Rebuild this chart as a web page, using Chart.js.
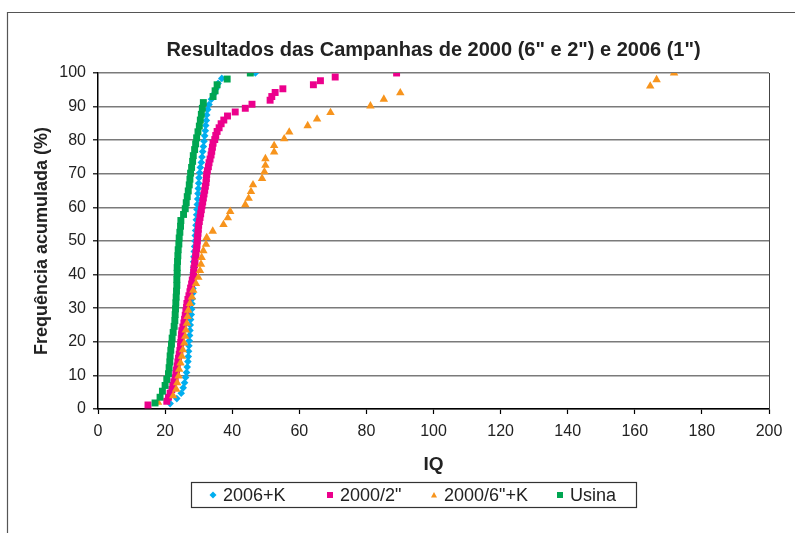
<!DOCTYPE html>
<html>
<head>
<meta charset="utf-8">
<script src="https://cdn.jsdelivr.net/npm/chart.js"></script>
<style>
  html, body { margin: 0; padding: 0; background: #fff; }
  #wrap { position: relative; width: 795px; height: 533px; }
  canvas { display: block; }
</style>
</head>
<body>
<div id="wrap"><canvas id="c" width="795" height="533"></canvas></div>
<script>
// ---- data ----
const chartTitle = 'Resultados das Campanhas de 2000 (6" e 2") e 2006 (1")';
const xTitle = 'IQ';
const yTitle = 'Frequência acumulada (%)';
const seriesNames = ['2006+K', '2000/2"', '2000/6"+K', 'Usina'];

// 2006+K
const k2006X = [21.5,23.5,24.8,25.4,25.8,26.1,26.4,26.6,26.8,26.9,
  27.0,27.1,27.2,27.3,27.4,27.5,27.6,27.8,27.9,28.0,
  28.1,28.2,28.3,28.3,28.4,28.4,28.5,28.5,28.6,28.7,
  28.8,28.9,29.0,29.1,29.2,29.3,29.4,29.5,29.6,29.7,
  29.8,29.9,30.0,30.1,30.3,30.5,30.8,31.0,31.2,31.4,
  31.6,31.8,32.0,32.1,32.3,32.4,32.7,33.1,33.8,34.6,
  35.2,35.8,36.9,46.9];
const k2006Y = [1.6,3.1,4.7,6.3,7.8,9.4,10.9,12.5,14.1,15.6,
  17.2,18.8,20.3,21.9,23.4,25.0,26.6,28.1,29.7,31.3,
  32.8,34.4,35.9,37.5,39.1,40.6,42.2,43.8,45.3,46.9,
  48.4,50.0,51.6,53.1,54.7,56.3,57.8,59.4,60.9,62.5,
  64.1,65.6,67.2,68.8,70.3,71.9,73.4,75.0,76.6,78.1,
  79.7,81.3,82.8,84.4,85.9,87.5,89.1,90.6,92.2,93.8,
  95.3,96.9,98.4,100];

// 2000/2"
const c2X = [14.9,20.5,21.0,21.5,22.0,22.3,22.6,23.0,23.2,23.4,
  23.6,23.8,24.0,24.2,24.4,24.6,24.7,24.8,24.9,25.0,
  25.3,25.6,25.8,26.0,26.2,26.4,26.5,26.8,27.1,27.4,
  27.6,27.9,28.1,28.4,28.5,28.6,28.8,28.9,29.1,29.2,
  29.4,29.5,29.6,29.7,29.8,29.9,30.0,30.2,30.4,30.6,
  30.8,31.0,31.2,31.4,31.6,31.8,32.0,32.2,32.3,32.4,
  32.6,32.9,33.1,33.4,33.7,33.9,34.1,34.3,34.8,35.1,
  35.5,36.1,36.7,37.5,38.6,40.9,43.9,45.9,51.3,51.8,
  52.8,55.1,64.2,66.3,70.7,89.0];
const c2Y = [1.2,2.3,3.5,4.7,5.8,7.0,8.1,9.3,10.5,11.6,
  12.8,14.0,15.1,16.3,17.4,18.6,19.8,20.9,22.1,23.3,
  24.4,25.6,26.7,27.9,29.1,30.2,31.4,32.6,33.7,34.9,
  36.0,37.2,38.4,39.5,40.7,41.9,43.0,44.2,45.3,46.5,
  47.7,48.8,50.0,51.2,52.3,53.5,54.7,55.8,57.0,58.1,
  59.3,60.5,61.6,62.8,64.0,65.1,66.3,67.4,68.6,69.8,
  70.9,72.1,73.3,74.4,75.6,76.7,77.9,79.1,80.2,81.4,
  82.6,83.7,84.9,86.0,87.2,88.4,89.5,90.7,91.9,93.0,
  94.2,95.3,96.5,97.7,98.8,100];

// 2000/6"+K
const c6X = [17.9,22.4,23.3,23.6,24.0,24.2,24.6,25.0,25.3,25.7,
  26.0,26.2,26.5,26.7,26.9,27.4,28.0,28.4,29.2,29.9,
  30.4,30.7,30.9,31.4,32.2,32.4,34.2,37.4,38.7,39.4,
  43.9,44.9,45.6,46.2,48.9,49.6,49.9,49.9,52.5,52.5,
  55.5,57.0,62.5,65.3,69.3,81.2,85.2,90.1,164.6,166.5,
  171.7];
const c6Y = [2.0,3.9,5.9,7.8,9.8,11.8,13.7,15.7,17.6,19.6,
  21.6,23.5,25.5,27.5,29.4,31.4,33.3,35.3,37.3,39.2,
  41.2,43.1,45.1,47.1,49.0,51.0,52.9,54.9,56.9,58.8,
  60.8,62.7,64.7,66.7,68.6,70.6,72.5,74.5,76.5,78.4,
  80.4,82.4,84.3,86.3,88.2,90.2,92.2,94.1,96.1,98.0,
  100];

// Usina
const usX = [17.0,18.5,19.2,20.0,20.5,21.0,21.2,21.4,21.5,21.7,
  21.9,22.1,22.4,22.7,22.9,23.0,23.1,23.2,23.3,23.4,
  23.5,23.5,23.6,23.6,23.7,23.8,23.9,24.1,24.2,24.4,
  24.6,24.7,25.5,26.0,26.3,26.6,26.9,27.2,27.4,27.6,
  27.9,28.2,28.4,28.8,29.1,29.4,29.8,30.2,30.5,30.8,
  31.1,31.4,34.3,34.9,35.5,38.5,45.4];
const usY = [1.8,3.5,5.3,7.0,8.8,10.5,12.3,14.0,15.8,17.5,
  19.3,21.1,22.8,24.6,26.3,28.1,29.8,31.6,33.3,35.1,
  36.8,38.6,40.4,42.1,43.9,45.6,47.4,49.1,50.9,52.6,
  54.4,56.1,57.9,59.6,61.4,63.2,64.9,66.7,68.4,70.2,
  71.9,73.7,75.4,77.2,78.9,80.7,82.5,84.2,86.0,87.7,
  89.5,91.2,93.0,94.7,96.5,98.2,100];

const xTicksMin = 0, xTicksMax = 200, xStep = 20;
const yTicksMin = 0, yTicksMax = 100, yStep = 10;

// ---- styles ----
const FONT = '"Liberation Sans", Arial, Helvetica, sans-serif';
const colors = ['#00AEEF', '#EC008C', '#F7941D', '#00A651'];
const styles = ['rectRot', 'rect', 'triangle', 'rect'];
const radii = [3.8, 4.9, 4.9, 4.9];
const drawOrder = [3, 2, 1, 0];

const pts = (xs, ys) => xs.map((x, i) => ({ x: x, y: ys[i] }));
const seriesData = [pts(k2006X, k2006Y), pts(c2X, c2Y), pts(c6X, c6Y), pts(usX, usY)];

const datasets = seriesNames.map((name, i) => ({
  label: name,
  data: seriesData[i],
  showLine: false,
  pointStyle: styles[i],
  pointRadius: radii[i],
  pointHoverRadius: radii[i],
  pointBackgroundColor: colors[i],
  pointBorderColor: colors[i],
  pointBorderWidth: 0,
  backgroundColor: colors[i],
  borderColor: colors[i],
  order: drawOrder[i]
}));

// outer frame, plot right border and title centred over the plot area
const framePlugin = {
  id: 'frame',
  beforeDraw(chart) {
    const ctx = chart.ctx;
    ctx.save();
    ctx.fillStyle = '#fff';
    ctx.fillRect(0, 0, chart.width, chart.height);
    ctx.strokeStyle = '#555';
    ctx.lineWidth = 1.2;
    ctx.beginPath();
    ctx.moveTo(7.5, chart.height);
    ctx.lineTo(7.5, 12.5);
    ctx.lineTo(chart.width, 12.5);
    ctx.stroke();
    ctx.restore();
  },
  afterDatasetsDraw(chart) {
    const a = chart.chartArea;
    const ctx = chart.ctx;
    ctx.save();
    ctx.strokeStyle = '#444';
    ctx.lineWidth = 1;
    ctx.beginPath();
    ctx.moveTo(Math.round(a.right) + 0.5, a.top);
    ctx.lineTo(Math.round(a.right) + 0.5, a.bottom);
    ctx.stroke();
    ctx.restore();
  },
  afterDraw(chart) {
    const a = chart.chartArea;
    const ctx = chart.ctx;
    ctx.save();
    ctx.fillStyle = '#222';
    ctx.font = 'bold 20px ' + FONT;
    ctx.textAlign = 'center';
    ctx.textBaseline = 'middle';
    ctx.fillText(chartTitle, (a.left + a.right) / 2, 50);
    ctx.restore();
  }
};

function drawMarker(ctx, style, x, y, r) {
  ctx.beginPath();
  if (style === 'rect') {
    ctx.rect(x - r, y - r, 2 * r, 2 * r);
  } else if (style === 'rectRot') {
    ctx.moveTo(x, y - r); ctx.lineTo(x + r, y); ctx.lineTo(x, y + r); ctx.lineTo(x - r, y); ctx.closePath();
  } else if (style === 'triangle') {
    ctx.moveTo(x, y - r); ctx.lineTo(x + r, y + r * 0.8); ctx.lineTo(x - r, y + r * 0.8); ctx.closePath();
  }
  ctx.fill();
}

// boxed legend under the x-axis title
const legendBox = {
  id: 'legendBox',
  afterDraw(chart, args, opts) {
    const ctx = chart.ctx;
    ctx.save();
    ctx.strokeStyle = '#333';
    ctx.lineWidth = 1.2;
    ctx.strokeRect(opts.left + 0.5, opts.top + 0.5, opts.right - opts.left, opts.bottom - opts.top);
    const cy = (opts.top + opts.bottom) / 2 + 0.5;
    ctx.font = opts.fontSize + 'px ' + FONT;
    ctx.textBaseline = 'middle';
    ctx.textAlign = 'left';
    chart.data.datasets.forEach((ds, i) => {
      const mx = opts.markerX[i];
      ctx.fillStyle = colors[i];
      drawMarker(ctx, styles[i], mx, cy, styles[i] === 'rectRot' ? 3.5 : 3);
      ctx.fillStyle = '#222';
      ctx.fillText(ds.label, mx + 10, cy + 1);
    });
    ctx.restore();
  }
};

new Chart(document.getElementById('c'), {
  type: 'scatter',
  data: { datasets: datasets },
  plugins: [framePlugin, legendBox],
  options: {
    responsive: false,
    animation: false,
    devicePixelRatio: 1,
    layout: { padding: { left: 0, right: 26, top: 73, bottom: 54 } },
    plugins: {
      legend: { display: false },
      tooltip: { enabled: false },
      title: { display: false },
      legendBox: {
        left: 191, right: 636, top: 482, bottom: 507,
        markerX: [213, 330, 434, 560],
        fontSize: 18
      }
    },
    scales: {
      x: {
        type: 'linear',
        min: xTicksMin, max: xTicksMax,
        afterFit(scale) { scale.height = 70; },
        ticks: { stepSize: xStep, color: '#222', font: { family: FONT, size: 16 }, padding: 8, maxRotation: 0 },
        grid: { drawOnChartArea: false, drawTicks: true, tickLength: 5, tickColor: '#000', tickWidth: 1.2 },
        border: { display: true, color: '#000', width: 1.5 },
        title: { display: true, text: xTitle, color: '#222', font: { family: FONT, size: 19, weight: 'bold' }, padding: { top: 0, bottom: 2.6 } }
      },
      y: {
        type: 'linear',
        min: yTicksMin, max: yTicksMax,
        afterFit(scale) { scale.width = 98; },
        ticks: { stepSize: yStep, color: '#222', font: { family: FONT, size: 16 }, padding: 7 },
        grid: { drawOnChartArea: true, color: '#7a7a7a', lineWidth: 1.6, drawTicks: true, tickLength: 5, tickColor: '#000', tickWidth: 1.2 },
        border: { display: true, color: '#000', width: 1.5 },
        title: { display: true, text: yTitle, color: '#222', font: { family: FONT, size: 18, weight: 'bold' }, padding: { top: 31.2, bottom: 0 } }
      }
    }
  }
});
</script>
</body>
</html>
